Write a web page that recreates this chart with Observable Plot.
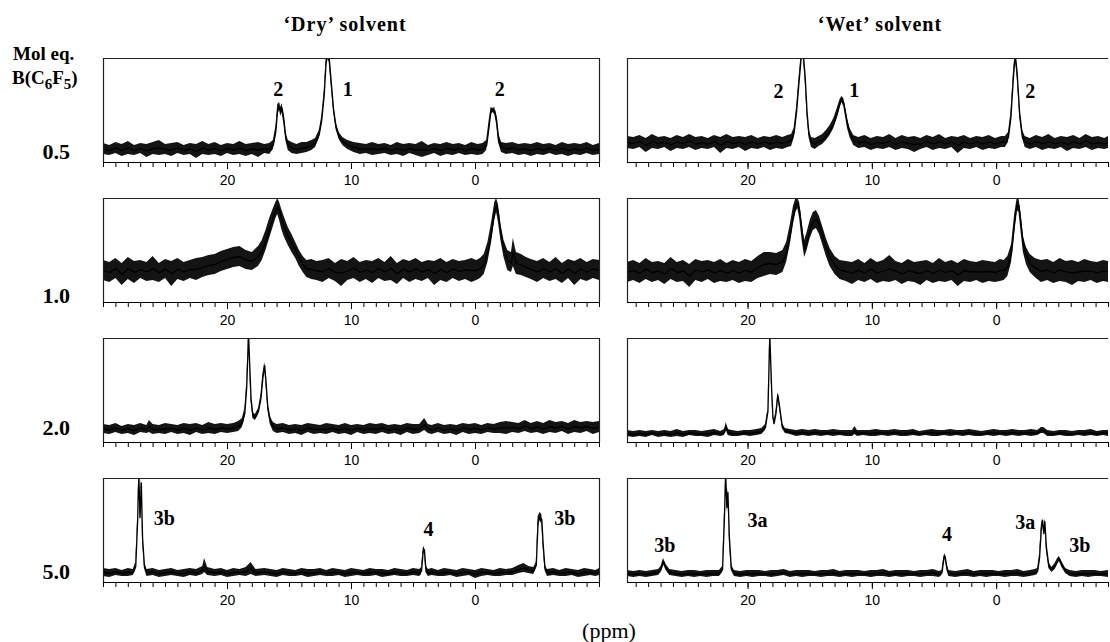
<!DOCTYPE html>
<html><head><meta charset="utf-8">
<script src="https://cdn.jsdelivr.net/npm/d3@7"></script>
<script src="https://cdn.jsdelivr.net/npm/@observablehq/plot@0.6"></script>
<style>
body{margin:0;background:#fff;}
#wrap{position:relative;width:1110px;height:642px;overflow:hidden;background:#fff;font-family:"Liberation Serif","Times New Roman",serif;color:#000;}
.t{position:absolute;white-space:nowrap;line-height:1;font-size:19px;font-weight:bold;}
.c{transform:translate(-50%,-50%);}
.r{transform:translate(-100%,-50%);}
.l{transform:translate(0,-50%);}
.panel{position:absolute;}
sub{font-size:15px;vertical-align:-5px;line-height:0;}
</style></head><body><div id="wrap"></div>
<script>
// ---- text content ----
const columnTitles = ["\u2018Dry\u2019 solvent", "\u2018Wet\u2019 solvent"];
const molEq = ["0.5", "1.0", "2.0", "5.0"];
const majorTicks = [20, 10, 0];
const axisTitle = "(ppm)";

// ---- spectra: [ppm, lower envelope, upper envelope] (intensity, a.u.) ----
const dry05 = [[30,8,19],[29.5,7,17],[29,9,20],[28.5,6,18],[28,8,21],[27.5,7,17],[27,9,19],[26.5,5,18],[26,8,20],[25.5,7,22],[25,8,18],[24.5,6,19],[24,9,20],[23.5,7,17],[23,8,19],[22.5,4,18],[22,8,21],[21.5,7,18],[21,8,20],[20.5,6,17],[20,9,19],[19.5,7,18],[19,8,21],[18.5,6,18],[18,8,19],[17.5,5,20],[17,9,18],[16.6,8,19],[16.3,13,22],[16.1,26,36],[15.95,48,58],[15.8,52,60],[15.7,46,55],[15.6,50,59],[15.45,38,48],[15.3,22,30],[15.1,12,22],[14.8,9,20],[14.4,8,18],[14,9,20],[13.6,10,20],[13.2,12,22],[12.9,15,24],[12.6,24,32],[12.4,38,46],[12.2,62,72],[12.05,95,104],[11.9,104,112],[11.8,100,110],[11.65,78,88],[11.45,50,58],[11.25,33,40],[11,23,30],[10.7,17,25],[10.3,13,22],[9.8,10,20],[9.3,8,19],[8.8,9,18],[8.3,7,20],[7.8,8,18],[7.3,9,19],[6.8,7,17],[6.3,8,20],[5.8,6,18],[5.3,9,19],[4.8,7,18],[4.3,5,21],[3.8,7,17],[3.3,9,19],[2.8,6,18],[2.3,8,20],[1.8,7,18],[1.3,9,19],[0.8,7,17],[0.3,8,20],[-0.2,7,18],[-0.6,8,19],[-0.9,12,22],[-1.1,30,42],[-1.25,48,55],[-1.4,50,54],[-1.55,48,55],[-1.7,38,48],[-1.85,20,30],[-2.1,10,20],[-2.5,8,19],[-3,9,20],[-3.5,7,18],[-4,8,19],[-4.5,6,18],[-5,8,20],[-5.5,7,18],[-6,9,19],[-6.5,7,17],[-7,8,20],[-7.5,6,18],[-8,8,19],[-8.5,7,18],[-9,9,20],[-9.5,7,17],[-10,8,19]];

const wet05 = [[29.7,14,26],[29.2,13,25],[28.7,15,27],[28.2,10,24],[27.7,14,28],[27.2,13,25],[26.7,15,26],[26.2,11,24],[25.7,14,27],[25.2,13,25],[24.7,15,28],[24.2,12,25],[23.7,14,26],[23.2,13,24],[22.7,15,27],[22.2,9,25],[21.7,14,28],[21.2,13,25],[20.7,15,26],[20.2,11,25],[19.7,14,27],[19.2,13,24],[18.7,15,26],[18.2,12,25],[17.7,14,27],[17.2,13,25],[16.8,15,27],[16.5,16,28],[16.3,24,34],[16.1,45,55],[15.9,75,85],[15.7,104,112],[15.55,104,112],[15.4,80,90],[15.25,45,55],[15.1,25,33],[14.9,15,25],[14.6,13,24],[14.3,16,26],[14,18,28],[13.7,22,32],[13.4,27,37],[13.1,34,44],[12.8,45,55],[12.6,55,63],[12.45,60,66],[12.3,56,64],[12.15,45,54],[12,34,44],[11.8,25,34],[11.5,17,27],[11.1,14,25],[10.6,15,27],[10.1,12,24],[9.6,14,26],[9.1,13,25],[8.6,15,28],[8.1,12,24],[7.6,14,27],[7.1,13,25],[6.6,10,26],[6.1,13,24],[5.6,15,27],[5.1,12,25],[4.6,14,28],[4.1,13,24],[3.6,15,26],[3.1,9,25],[2.6,14,27],[2.1,13,24],[1.6,15,26],[1.1,12,25],[0.6,14,27],[0.1,13,24],[-0.4,15,26],[-0.7,15,26],[-0.95,20,30],[-1.15,40,50],[-1.35,80,90],[-1.5,104,112],[-1.65,85,95],[-1.85,45,55],[-2.05,25,33],[-2.3,15,26],[-2.7,13,24],[-3.2,15,27],[-3.7,12,25],[-4.2,14,28],[-4.7,13,24],[-5.2,15,26],[-5.7,11,25],[-6.2,14,27],[-6.7,13,24],[-7.2,15,28],[-7.7,12,25],[-8.2,14,26],[-8.7,13,24],[-9,14,26]];

const dry10 = [[30,22,42],[29.5,20,40],[29,24,44],[28.5,17,39],[28,23,45],[27.5,19,41],[27,24,42],[26.5,21,40],[26,22,46],[25.5,20,39],[25,24,43],[24.5,16,41],[24,23,44],[23.5,21,40],[23,24,42],[22.5,22,44],[22,25,45],[21.5,27,47],[21,28,48],[20.5,31,51],[20,33,53],[19.5,35,55],[19,36,56],[18.5,33,52],[18,32,50],[17.5,36,56],[17.2,42,62],[16.9,52,72],[16.6,64,84],[16.3,76,94],[16.1,84,100],[15.95,88,104],[15.8,82,100],[15.6,72,92],[15.4,65,85],[15.1,57,75],[14.8,50,68],[14.5,44,60],[14.2,36,52],[13.9,30,46],[13.6,25,42],[13.2,23,43],[12.8,22,41],[12.3,20,42],[11.8,24,44],[11.3,21,39],[10.8,16,43],[10.3,22,41],[9.8,24,45],[9.3,20,40],[8.8,23,42],[8.3,19,41],[7.8,24,44],[7.3,21,40],[6.8,22,46],[6.3,18,39],[5.8,24,43],[5.3,20,41],[4.8,23,44],[4.3,21,40],[3.8,24,42],[3.3,17,41],[2.8,22,44],[2.3,20,40],[1.8,24,43],[1.3,21,41],[0.8,23,42],[0.3,20,44],[-0.1,22,42],[-0.4,24,44],[-0.7,28,48],[-1.0,40,60],[-1.3,60,80],[-1.55,82,100],[-1.7,90,104],[-1.85,80,98],[-2.05,62,78],[-2.3,45,62],[-2.6,32,52],[-2.9,30,50],[-3.05,36,64],[-3.3,28,50],[-3.7,27,48],[-4.1,25,45],[-4.5,23,43],[-5,20,41],[-5.5,24,44],[-6,21,40],[-6.5,23,45],[-7,19,39],[-7.5,24,43],[-8,17,41],[-8.5,23,44],[-9,21,40],[-9.5,24,43],[-10,22,42]];

const wet10 = [[29.7,20,40],[29.2,22,42],[28.7,19,39],[28.2,23,44],[27.7,20,40],[27.2,22,41],[26.7,18,39],[26.2,23,45],[25.7,20,40],[25.2,21,42],[24.7,15,38],[24.2,22,43],[23.7,20,41],[23.2,23,42],[22.7,19,40],[22.2,21,43],[21.7,20,39],[21.2,22,42],[20.7,19,40],[20.2,21,43],[19.7,20,41],[19.2,24,46],[18.7,26,50],[18.2,28,50],[17.7,27,49],[17.2,30,52],[16.9,40,60],[16.6,58,78],[16.35,78,96],[16.15,90,104],[16,94,104],[15.85,84,100],[15.65,62,80],[15.45,45,62],[15.25,52,70],[15,64,82],[14.75,72,90],[14.5,74,92],[14.25,68,86],[14,58,76],[13.7,46,64],[13.4,36,54],[13,28,46],[12.6,23,42],[12.1,21,41],[11.6,18,40],[11.1,22,43],[10.6,20,39],[10.1,23,44],[9.6,19,40],[9.1,21,42],[8.6,20,47],[8.1,22,41],[7.6,18,39],[7.1,21,43],[6.6,20,40],[6.1,17,41],[5.6,22,42],[5.1,19,39],[4.6,21,44],[4.1,20,40],[3.6,22,42],[3.1,16,39],[2.6,21,43],[2.1,20,41],[1.6,22,40],[1.1,19,42],[0.6,21,41],[0.1,20,40],[-0.3,21,43],[-0.6,22,42],[-0.9,26,46],[-1.2,40,58],[-1.45,70,88],[-1.65,92,104],[-1.8,90,104],[-1.95,72,90],[-2.15,50,66],[-2.4,38,55],[-2.7,30,48],[-3.1,25,44],[-3.6,20,42],[-4.1,22,43],[-4.6,19,40],[-5.1,21,44],[-5.6,20,41],[-6.1,17,42],[-6.6,21,40],[-7.1,20,43],[-7.6,22,41],[-8.1,19,40],[-8.6,21,42],[-9,20,41]];

const dry20 = [[30,9,18],[29.5,8,17],[29,10,19],[28.5,8,16],[28,9,18],[27.5,7,17],[27,10,19],[26.5,9,17],[26.3,10,22],[26,8,18],[25.5,9,17],[25,8,19],[24.5,10,18],[24,8,17],[23.5,9,19],[23,7,18],[22.5,10,19],[22,8,17],[21.5,9,20],[21,8,18],[20.5,10,19],[20,9,18],[19.5,10,19],[19.1,11,21],[18.8,15,24],[18.6,25,34],[18.45,50,60],[18.3,104,112],[18.2,70,80],[18.1,40,48],[17.95,24,30],[17.75,22,28],[17.5,28,34],[17.3,40,48],[17.15,60,68],[17,74,80],[16.9,58,66],[16.75,32,40],[16.55,18,26],[16.3,11,20],[16,9,18],[15.5,10,19],[15,8,17],[14.5,9,18],[14,7,17],[13.5,10,19],[13,8,18],[12.5,9,17],[12,8,19],[11.5,10,18],[11,8,17],[10.5,9,19],[10,7,17],[9.5,10,18],[9,8,17],[8.5,9,19],[8,8,18],[7.5,10,19],[7,8,17],[6.5,9,18],[6,7,17],[5.5,10,19],[5,8,18],[4.5,9,18],[4.1,12,24],[3.8,9,18],[3.5,8,17],[3,10,19],[2.5,8,17],[2,9,18],[1.5,7,17],[1,10,19],[0.5,8,18],[0,9,19],[-0.5,8,17],[-1,10,19],[-1.5,9,18],[-2,9,20],[-2.5,8,21],[-3,10,20],[-3.5,9,19],[-4,11,22],[-4.5,9,19],[-5,10,21],[-5.5,8,19],[-6,10,22],[-6.5,9,20],[-7,11,21],[-7.5,8,19],[-8,10,22],[-8.5,9,20],[-9,11,21],[-9.5,8,20],[-10,10,21]];

const wet20 = [[29.7,6,12],[29.2,5,11],[28.7,6,12],[28.2,5,11],[27.7,7,12],[27.2,5,11],[26.7,6,12],[26.2,5,11],[25.7,6,13],[25.2,5,11],[24.7,7,12],[24.2,6,12],[23.7,6,11],[23.2,5,12],[22.7,7,13],[22.2,6,11],[21.9,7,13],[21.75,12,20],[21.6,7,13],[21.3,6,12],[20.8,6,11],[20.3,7,12],[19.8,6,12],[19.3,7,13],[18.9,8,14],[18.6,12,18],[18.4,28,34],[18.25,104,112],[18.1,50,56],[18,24,28],[17.9,17,21],[17.75,26,32],[17.6,45,50],[17.45,32,38],[17.25,14,19],[17,9,14],[16.6,8,13],[16.1,6,12],[15.6,7,13],[15.1,6,12],[14.6,7,13],[14.1,6,12],[13.6,7,12],[13.1,6,13],[12.6,7,12],[12.1,6,12],[11.6,6,12],[11.4,8,16],[11.2,6,12],[10.7,7,12],[10.2,6,12],[9.7,6,13],[9.2,7,12],[8.7,6,12],[8.2,7,13],[7.7,6,12],[7.2,6,12],[6.7,7,13],[6.2,6,11],[5.7,7,12],[5.2,6,13],[4.7,6,12],[4.2,7,12],[3.7,6,13],[3.2,7,12],[2.7,6,12],[2.2,7,13],[1.7,6,12],[1.2,6,11],[0.7,7,12],[0.2,6,13],[-0.3,7,12],[-0.8,6,12],[-1.3,7,13],[-1.8,6,12],[-2.3,7,12],[-2.8,6,13],[-3.3,7,12],[-3.6,9,15],[-3.8,9,15],[-4.1,6,12],[-4.6,6,11],[-5.1,7,12],[-5.6,6,12],[-6.1,6,11],[-6.6,7,12],[-7.1,6,12],[-7.6,7,13],[-8.1,6,11],[-8.6,7,12],[-9,6,12]];

const dry50 = [[30,6,14],[29.5,5,13],[29,7,14],[28.5,6,12],[28,6,14],[27.6,7,13],[27.4,12,20],[27.25,55,65],[27.15,104,112],[27.05,60,70],[26.95,95,104],[26.85,40,50],[26.7,14,20],[26.5,6,13],[26,7,14],[25.5,5,12],[25,6,13],[24.5,7,14],[24,6,12],[23.5,5,13],[23,7,14],[22.5,6,13],[22,8,16],[21.85,10,24],[21.6,7,15],[21,6,13],[20.5,7,14],[20,5,12],[19.5,6,14],[19,7,13],[18.5,6,15],[18.1,8,20],[17.7,6,13],[17,7,14],[16.5,6,13],[16,5,12],[15.5,7,14],[15,6,13],[14.5,6,12],[14,7,14],[13.5,5,13],[13,6,13],[12.5,7,14],[12,6,12],[11.5,6,14],[11,7,13],[10.5,5,12],[10,6,14],[9.5,7,13],[9,6,12],[8.5,6,14],[8,7,13],[7.5,5,13],[7,6,12],[6.5,7,14],[6,6,13],[5.5,6,12],[5,7,14],[4.5,6,13],[4.35,8,15],[4.22,28,34],[4.12,30,36],[4,10,17],[3.8,6,13],[3.5,7,14],[3,6,12],[2.5,6,14],[2,7,13],[1.5,5,12],[1,6,14],[0.5,7,13],[0,4,12],[-0.5,6,14],[-1,7,13],[-1.5,6,12],[-2,6,14],[-2.5,7,13],[-3,7,14],[-3.5,9,17],[-3.9,10,19],[-4.3,9,16],[-4.7,8,15],[-4.9,14,20],[-5.05,55,66],[-5.2,62,70],[-5.35,58,68],[-5.45,35,45],[-5.6,12,18],[-5.8,6,13],[-6.3,7,14],[-6.8,6,12],[-7.3,6,14],[-7.8,7,13],[-8.3,5,12],[-8.8,6,14],[-9.3,7,13],[-9.7,6,12],[-10,7,14]];

const wet50 = [[29.7,6,12],[29.2,5,11],[28.7,6,12],[28.2,5,11],[27.7,6,12],[27.2,7,13],[27,10,16],[26.8,18,24],[26.6,12,18],[26.3,7,13],[25.8,6,12],[25.3,5,11],[24.8,6,12],[24.3,5,12],[23.8,6,11],[23.3,5,12],[22.8,6,12],[22.3,6,12],[22.05,10,16],[21.9,60,70],[21.8,104,112],[21.7,70,80],[21.62,86,94],[21.5,40,50],[21.35,12,18],[21.1,6,12],[20.6,5,11],[20.1,6,12],[19.6,5,12],[19.1,6,12],[18.6,6,11],[18.1,5,12],[17.6,6,12],[17.1,7,13],[16.6,5,11],[16.1,6,12],[15.6,5,12],[15.1,6,12],[14.6,6,11],[14.1,5,12],[13.6,6,12],[13.1,6,13],[12.6,5,11],[12.1,6,12],[11.6,5,12],[11.1,6,12],[10.6,6,11],[10.1,5,12],[9.6,6,12],[9.1,6,13],[8.6,5,11],[8.1,6,12],[7.6,5,12],[7.1,6,12],[6.6,6,11],[6.1,5,12],[5.6,6,12],[5.1,6,13],[4.6,5,11],[4.4,7,12],[4.25,20,26],[4.15,24,29],[4,12,18],[3.85,6,12],[3.3,5,11],[2.8,6,12],[2.3,6,13],[1.8,5,11],[1.3,6,12],[0.8,5,12],[0.3,6,12],[-0.2,6,11],[-0.7,5,12],[-1.2,6,12],[-1.7,6,13],[-2.2,5,11],[-2.7,6,12],[-3.1,7,13],[-3.3,8,14],[-3.45,20,28],[-3.6,50,58],[-3.7,60,64],[-3.8,46,52],[-3.88,58,64],[-4,32,40],[-4.2,14,20],[-4.45,10,15],[-4.7,13,19],[-4.9,18,24],[-5.05,21,26],[-5.25,15,21],[-5.55,9,14],[-5.9,6,12],[-6.4,5,11],[-6.9,6,12],[-7.4,5,12],[-7.9,6,12],[-8.4,6,11],[-9,5,12]];

// ---- peak labels: [ppm, intensity, label] ----
const dry05Labels = [[15.9,73,"2"],[10.3,73,"1"],[-1.95,73,"2"]];
const wet05Labels = [[17.55,71,"2"],[11.45,72,"1"],[-2.7,71,"2"]];
const dry10Labels = [];
const wet10Labels = [];
const dry20Labels = [];
const wet20Labels = [];
const dry50Labels = [[25.1,64,"3b"],[3.8,53,"4"],[-7.2,64,"3b"]];
const wet50Labels = [[26.7,37,"3b"],[19.25,62,"3a"],[4.0,48,"4"],[-2.3,60,"3a"],[-6.7,37,"3b"]];

// ---- layout ----
const spectra = [[dry05, wet05], [dry10, wet10], [dry20, wet20], [dry50, wet50]];
const labels = [[dry05Labels, wet05Labels], [dry10Labels, wet10Labels], [dry20Labels, wet20Labels], [dry50Labels, wet50Labels]];
const rowTop = [58, 198, 338, 478];
const H = 104;
const colLeft = [103, 627];
const colWidth = [496, 481];
const colDomain = [[30, -10], [29.7, -9]];
const rowLabelY = [152, 296, 428, 572];

const wrap = document.getElementById("wrap");
function addText(html, x, y, cls, extra) {
  const d = document.createElement("div");
  d.className = "t " + cls;
  d.style.left = x + "px";
  d.style.top = y + "px";
  if (extra) Object.assign(d.style, extra);
  d.innerHTML = html;
  wrap.appendChild(d);
}

function makePanel(data, labs, col) {
  const dom = colDomain[col];
  const ml = 12, mr = col === 0 ? 8 : 1, mt = 6, mb = 34;
  const rows = data.map(([x, lo, hi]) => ({x, lo, hi, mid: (lo + hi) / 2}));
  const lo = Math.ceil(Math.min(...dom)), hi = Math.floor(Math.max(...dom));
  const minor = d3.range(lo, hi + 1);
  const marks = [
    Plot.areaY(rows, {x: "x", y1: "lo", y2: "hi", fill: "#000", fillOpacity: 0.92, clip: true}),
    Plot.lineY(rows, {x: "x", y: "mid", stroke: "#000", strokeWidth: 1.3, clip: true}),
    Plot.ruleY([H], {stroke: "#222", strokeWidth: 1.2}),
    Plot.ruleX([dom[0]], {stroke: "#222", strokeWidth: 1.2}),
    Plot.axisX({ticks: minor, tickSize: 5, tickFormat: () => "", label: null}),
    Plot.axisX({ticks: majorTicks, tickSize: 7, tickPadding: 6, label: null, fontSize: 14}),
    Plot.ruleY([0], {stroke: "#000", strokeWidth: 1.2}),
    Plot.text(labs, {x: d => d[0], y: d => d[1], text: d => d[2], fontSize: 20, fontWeight: "bold", fontFamily: "Liberation Serif, Times New Roman, serif", fill: "#000"})
  ];
  if (col === 0) marks.push(Plot.ruleX([dom[1]], {stroke: "#222", strokeWidth: 1.2}));
  return {ml, mt, svg: Plot.plot({
    width: ml + colWidth[col] + mr,
    height: mt + H + mb,
    marginLeft: ml, marginRight: mr, marginTop: mt, marginBottom: mb,
    x: {domain: dom},
    y: {domain: [0, H], axis: null},
    style: {background: "transparent", fontFamily: "Liberation Sans, Arial, sans-serif", fontSize: "14px", color: "#000"},
    marks
  })};
}

for (let r = 0; r < 4; r++) {
  for (let c = 0; c < 2; c++) {
    const p = makePanel(spectra[r][c], labels[r][c], c);
    const holder = document.createElement("div");
    holder.className = "panel";
    holder.style.left = (colLeft[c] - p.ml) + "px";
    holder.style.top = (rowTop[r] - p.mt) + "px";
    holder.appendChild(p.svg);
    wrap.appendChild(holder);
  }
  addText(molEq[r], 70, rowLabelY[r], "r", {fontSize: "22px"});
}

addText(columnTitles[0], 345, 24, "c", {fontSize: "20px", letterSpacing: "1px"});
addText(columnTitles[1], 880, 24, "c", {fontSize: "20px", letterSpacing: "1px"});
addText("Mol eq.", 13, 53, "l");
addText("B(C<sub>6</sub>F<sub>5</sub>)", 12, 77, "l");
addText(axisTitle, 609, 631, "c", {fontWeight: "normal", fontSize: "22px"});
</script></body></html>
